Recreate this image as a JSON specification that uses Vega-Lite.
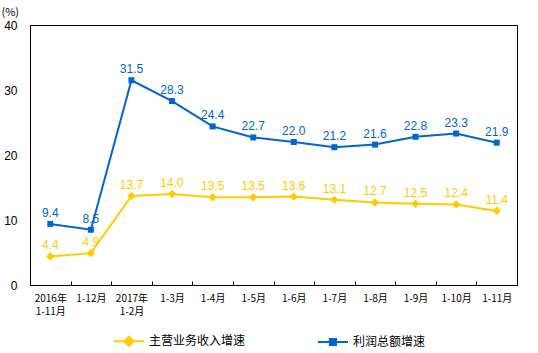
{
  "$schema": "https://vega.github.io/schema/vega-lite/v6.json",
  "width": 487,
  "height": 260,
  "autosize": {"type": "none"},
  "padding": {"left": 30, "top": 25, "right": 21, "bottom": 68},
  "background": "#ffffff",
  "config": {
    "view": {"stroke": "#000000", "strokeWidth": 1},
    "font": "Liberation Sans"
  },
  "data": {
    "values": [
      {"period": "2016年\n1-11月", "series": "主营业务收入增速", "value": 4.4},
      {"period": "1-12月", "series": "主营业务收入增速", "value": 4.9},
      {"period": "2017年\n1-2月", "series": "主营业务收入增速", "value": 13.7},
      {"period": "1-3月", "series": "主营业务收入增速", "value": 14.0},
      {"period": "1-4月", "series": "主营业务收入增速", "value": 13.5},
      {"period": "1-5月", "series": "主营业务收入增速", "value": 13.5},
      {"period": "1-6月", "series": "主营业务收入增速", "value": 13.6},
      {"period": "1-7月", "series": "主营业务收入增速", "value": 13.1},
      {"period": "1-8月", "series": "主营业务收入增速", "value": 12.7},
      {"period": "1-9月", "series": "主营业务收入增速", "value": 12.5},
      {"period": "1-10月", "series": "主营业务收入增速", "value": 12.4},
      {"period": "1-11月", "series": "主营业务收入增速", "value": 11.4},
      {"period": "2016年\n1-11月", "series": "利润总额增速", "value": 9.4},
      {"period": "1-12月", "series": "利润总额增速", "value": 8.5},
      {"period": "2017年\n1-2月", "series": "利润总额增速", "value": 31.5},
      {"period": "1-3月", "series": "利润总额增速", "value": 28.3},
      {"period": "1-4月", "series": "利润总额增速", "value": 24.4},
      {"period": "1-5月", "series": "利润总额增速", "value": 22.7},
      {"period": "1-6月", "series": "利润总额增速", "value": 22.0},
      {"period": "1-7月", "series": "利润总额增速", "value": 21.2},
      {"period": "1-8月", "series": "利润总额增速", "value": 21.6},
      {"period": "1-9月", "series": "利润总额增速", "value": 22.8},
      {"period": "1-10月", "series": "利润总额增速", "value": 23.3},
      {"period": "1-11月", "series": "利润总额增速", "value": 21.9}
    ]
  },
  "encoding": {
    "x": {
      "field": "period",
      "type": "nominal",
      "sort": null,
      "scale": {"type": "band", "paddingInner": 0, "paddingOuter": 0},
      "axis": {
        "title": null,
        "labelAngle": 0,
        "labelExpr": "split(datum.label, '\\n')",
        "labelFont": "Noto Sans CJK SC",
        "labelFontSize": 10,
        "labelLineHeight": 13,
        "labelColor": "#000000",
        "labelPadding": 12,
        "labelBaseline": "top",
        "tickBand": "extent",
        "tickSize": -4,
        "tickColor": "#000000",
        "domainColor": "#000000",
        "grid": false
      }
    },
    "y": {
      "field": "value",
      "type": "quantitative",
      "scale": {"domain": [0, 40], "nice": false},
      "axis": {
        "values": [0, 10, 20, 30, 40],
        "title": "(%)",
        "titleAngle": 0,
        "titleAlign": "left",
        "titleBaseline": "middle",
        "titleX": -29,
        "titleY": -13,
        "titleFont": "Noto Sans CJK SC",
        "titleFontSize": 11,
        "titleFontWeight": "normal",
        "titleColor": "#000000",
        "labelFontSize": 12,
        "labelColor": "#000000",
        "labelPadding": 13,
        "tickSize": 0,
        "domainColor": "#000000",
        "grid": false
      }
    },
    "color": {
      "field": "series",
      "type": "nominal",
      "sort": ["主营业务收入增速", "利润总额增速"],
      "scale": {"domain": ["主营业务收入增速", "利润总额增速"], "range": ["#FFCC00", "#0066CC"]},
      "legend": {
        "title": null,
        "orient": "none",
        "legendX": 83,
        "legendY": 300,
        "direction": "horizontal",
        "symbolSize": 900,
        "symbolStrokeWidth": 2,
        "labelFont": "Noto Sans CJK SC",
        "labelFontSize": 12,
        "labelColor": "#000000",
        "labelOffset": 4,
        "columnPadding": 68,
        "encode": {
          "symbols": {
            "update": {
              "shape": {"signal": "datum.value === '主营业务收入增速' ? 'M-1,0L1,0M0,-0.3L0.3,0L0,0.3L-0.3,0Z' : 'M-1,0L1,0M-0.2,-0.2L0.2,-0.2L0.2,0.2L-0.2,0.2Z'"},
              "fill": {"signal": "datum.value === '主营业务收入增速' ? '#FFCC00' : '#0066CC'"},
              "stroke": {"signal": "datum.value === '主营业务收入增速' ? '#FFCC00' : '#0066CC'"},
              "strokeWidth": {"value": 2},
              "strokeOpacity": {"value": 1},
              "fillOpacity": {"value": 1}
            }
          }
        }
      }
    }
  },
  "layer": [
    {
      "mark": {"type": "line", "strokeWidth": 2}
    },
    {
      "transform": [{"filter": "datum.series === '主营业务收入增速'"}],
      "mark": {"type": "point", "filled": true, "opacity": 1, "shape": "diamond", "size": 70}
    },
    {
      "transform": [{"filter": "datum.series === '利润总额增速'"}],
      "mark": {"type": "point", "filled": true, "opacity": 1, "shape": "square", "size": 36}
    },
    {
      "mark": {"type": "text", "fontSize": 12, "baseline": "alphabetic", "dy": -7},
      "encoding": {
        "text": {"field": "value", "type": "quantitative", "format": ".1f"}
      }
    }
  ]
}
